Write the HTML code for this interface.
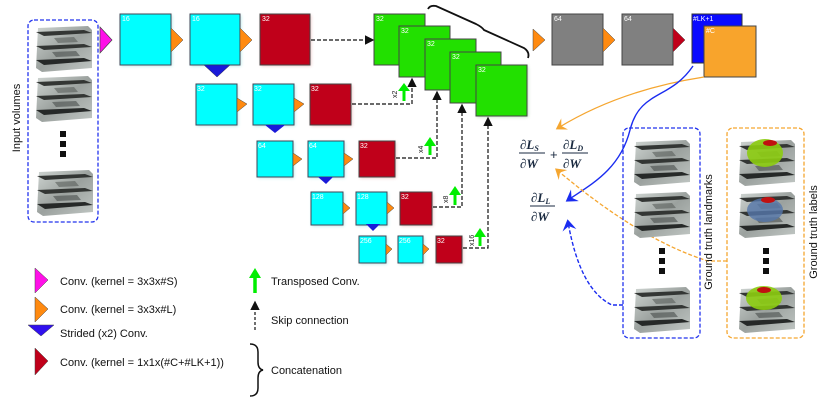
<!DOCTYPE html>
<html><head><meta charset="utf-8"><style>
html,body{margin:0;padding:0;background:#fff;}
svg{display:block;font-family:"Liberation Sans",sans-serif;}
.bl{font-size:7px;fill:#fff;}
.lg{font-size:11px;fill:#111;}
.m{font-family:"Liberation Serif",serif;font-style:italic;font-weight:bold;fill:#1a2a40;}
</style></head><body>
<svg width="831" height="406" viewBox="0 0 831 406" xmlns="http://www.w3.org/2000/svg">
<defs>
<linearGradient id="vg" x1="0" y1="0" x2="1" y2="1"><stop offset="0" stop-color="#cfd5d2"/><stop offset="0.5" stop-color="#9ba19e"/><stop offset="1" stop-color="#c0c6c3"/></linearGradient>
<g id="vol">
<polygon points="4,4 54,2 58,6 58,44 8,48 2,44" fill="url(#vg)"/>
<polygon points="2,8 50,6 58,9 10,12" fill="#333634"/>
<polygon points="2,22 50,20 58,23 10,26" fill="#333634"/>
<polygon points="2,36 50,34 58,37 10,41" fill="#262928"/>
<polygon points="20,14 40,13 44,18 24,19" fill="#5a5f5c" opacity="0.6"/>
<polygon points="18,28 42,27 46,32 22,33" fill="#4a4f4c" opacity="0.6"/>
</g>
<filter id="gl" x="-20%" y="-20%" width="140%" height="140%"><feGaussianBlur stdDeviation="1.5"/></filter>
<marker id="ab" markerWidth="8" markerHeight="8" refX="6" refY="4" orient="auto"><path d="M0,0 L8,4 L0,8 z" fill="#111"/></marker>
<marker id="ao" markerWidth="10" markerHeight="10" refX="6" refY="5" orient="auto"><path d="M0,0 L8,5 L0,10 L3,5 z" fill="#f5a630"/></marker>
<marker id="abl" markerWidth="10" markerHeight="10" refX="6" refY="5" orient="auto"><path d="M0,0 L8,5 L0,10 L3,5 z" fill="#1a2cf0"/></marker>
</defs>

<!-- input volumes -->
<rect x="28" y="20" width="70" height="202" rx="6" fill="none" stroke="#2233ee" stroke-width="1.3" stroke-dasharray="4,2"/>
<text x="20" y="118" transform="rotate(-90 20 118)" text-anchor="middle" class="lg">Input volumes</text>
<use href="#vol" x="34" y="24"/>
<use href="#vol" x="34" y="74"/>
<rect x="60" y="131" width="6" height="6" fill="#111"/><rect x="60" y="141" width="6" height="6" fill="#111"/><rect x="60" y="151" width="6" height="6" fill="#111"/>
<use href="#vol" x="35" y="168"/>

<!-- glows -->
<g filter="url(#gl)" opacity="0.5">
<rect x="121" y="15" width="51" height="51" fill="#60d0d0"/><rect x="191" y="15" width="50" height="51" fill="#60d0d0"/>
<rect x="261" y="15" width="50" height="51" fill="#d08080"/>
<rect x="197" y="85" width="41" height="41" fill="#60d0d0"/><rect x="254" y="85" width="41" height="41" fill="#60d0d0"/><rect x="311" y="85" width="41" height="41" fill="#d08080"/>
<rect x="258" y="142" width="36" height="36" fill="#60d0d0"/><rect x="309" y="142" width="36" height="36" fill="#60d0d0"/><rect x="360" y="142" width="36" height="36" fill="#d08080"/>
<rect x="312" y="193" width="32" height="33" fill="#60d0d0"/><rect x="357" y="193" width="31" height="33" fill="#60d0d0"/><rect x="401" y="193" width="32" height="33" fill="#d08080"/>
<rect x="360" y="237" width="27" height="27" fill="#60d0d0"/><rect x="399" y="237" width="25" height="27" fill="#60d0d0"/><rect x="437" y="237" width="26" height="27" fill="#d08080"/>
<rect x="477" y="66" width="51" height="51" fill="#70c070"/>
</g>

<!-- row 1 -->
<polygon points="100,27 112,40 100,53" fill="#ff10e8" stroke="#444" stroke-width="0.7"/>
<rect x="120" y="14" width="51" height="51" fill="#00ffff" stroke="#445" stroke-width="1"/><text x="122" y="21" class="bl">16</text>
<polygon points="171,28 183,40 171,52" fill="#ff8a10" stroke="#444" stroke-width="0.5"/>
<rect x="190" y="14" width="50" height="51" fill="#00ffff" stroke="#445" stroke-width="1"/><text x="192" y="21" class="bl">16</text>
<polygon points="240,28 252,40 240,52" fill="#ff8a10" stroke="#444" stroke-width="0.5"/>
<polygon points="204,65 230,65 217,77" fill="#1a1ad8" stroke="#334" stroke-width="0.5"/>
<rect x="260" y="14" width="50" height="51" fill="#c0001a" stroke="#444" stroke-width="1"/><text x="262" y="21" class="bl">32</text>
<path d="M311,40 L372,40" stroke="#111" stroke-width="1.2" stroke-dasharray="4,2" fill="none" marker-end="url(#ab)"/>

<!-- green stack -->
<g stroke="#444" stroke-width="1">
<rect x="374" y="14" width="51" height="51" fill="#22e000"/>
<rect x="399" y="26" width="51" height="51" fill="#22e000"/>
<rect x="425" y="39" width="51" height="51" fill="#22e000"/>
<rect x="450" y="52" width="51" height="51" fill="#22e000"/>
<rect x="476" y="65" width="51" height="51" fill="#22e000"/>
</g>
<text x="376" y="21" class="bl">32</text><text x="401" y="33" class="bl">32</text><text x="427" y="46" class="bl">32</text><text x="452" y="59" class="bl">32</text><text x="478" y="72" class="bl">32</text>
<path d="M428,9 Q430,5 436,6 L476,24 Q482,27 484,30 L524,48 Q530,52 528,58" stroke="#111" stroke-width="1.8" fill="none"/>

<polygon points="533,29 545,40 533,51" fill="#ff8a10" stroke="#444" stroke-width="0.5"/>
<rect x="552" y="14" width="51" height="51" fill="#808080" stroke="#444" stroke-width="1"/><text x="554" y="21" class="bl">64</text>
<polygon points="603,28 615,40 603,52" fill="#ff8a10" stroke="#444" stroke-width="0.5"/>
<rect x="622" y="14" width="51" height="51" fill="#808080" stroke="#444" stroke-width="1"/><text x="624" y="21" class="bl">64</text>
<polygon points="673,28 685,40 673,52" fill="#c0001a" stroke="#444" stroke-width="0.5"/>
<rect x="692" y="14" width="50" height="49" fill="#0a0aff" stroke="#333" stroke-width="1"/><text x="693" y="21" class="bl">#LK+1</text>
<rect x="704" y="26" width="52" height="51" fill="#f8a42c" stroke="#444" stroke-width="1"/><text x="706" y="33" class="bl">#C</text>

<!-- row 2 -->
<rect x="196" y="84" width="41" height="41" fill="#00ffff" stroke="#445"/><text x="197" y="91" class="bl">32</text>
<polygon points="237,98 247,104 237,112" fill="#ff8a10" stroke="#444" stroke-width="0.5"/>
<rect x="253" y="84" width="41" height="41" fill="#00ffff" stroke="#445"/><text x="254" y="91" class="bl">32</text>
<polygon points="294,98 304,104 294,112" fill="#ff8a10" stroke="#444" stroke-width="0.5"/>
<polygon points="265,125 285,125 275,133" fill="#1a1ad8"/>
<rect x="310" y="84" width="41" height="41" fill="#c0001a" stroke="#444"/><text x="311" y="91" class="bl">32</text>
<path d="M352,104 L412,104 L412,80" stroke="#111" stroke-width="1.2" stroke-dasharray="4,2" fill="none" marker-end="url(#ab)"/>
<path d="M404,101 L404,90" stroke="#00ee00" stroke-width="3"/><polygon points="398,91 404,83 410,91" fill="#00ee00"/>
<text x="397" y="98" class="bl" style="fill:#222" transform="rotate(-90 397 98)">x2</text>

<!-- row 3 -->
<rect x="257" y="141" width="36" height="36" fill="#00ffff" stroke="#445"/><text x="258" y="148" class="bl">64</text>
<polygon points="293,153 302,159 293,166" fill="#ff8a10" stroke="#444" stroke-width="0.5"/>
<rect x="308" y="141" width="36" height="36" fill="#00ffff" stroke="#445"/><text x="309" y="148" class="bl">64</text>
<polygon points="344,153 353,159 344,166" fill="#ff8a10" stroke="#444" stroke-width="0.5"/>
<polygon points="318,177 333,177 326,184" fill="#1a1ad8"/>
<rect x="359" y="141" width="36" height="36" fill="#c0001a" stroke="#444"/><text x="360" y="148" class="bl">32</text>
<path d="M396,158 L437,158 L437,93" stroke="#111" stroke-width="1.2" stroke-dasharray="4,2" fill="none" marker-end="url(#ab)"/>
<path d="M430,155 L430,145" stroke="#00ee00" stroke-width="3"/><polygon points="424,146 430,137 436,146" fill="#00ee00"/>
<text x="423" y="153" class="bl" style="fill:#222" transform="rotate(-90 423 153)">x4</text>

<!-- row 4 -->
<rect x="311" y="192" width="32" height="33" fill="#00ffff" stroke="#445"/><text x="312" y="199" class="bl">128</text>
<polygon points="343,202 350,208 343,214" fill="#ff8a10" stroke="#444" stroke-width="0.5"/>
<rect x="356" y="192" width="31" height="33" fill="#00ffff" stroke="#445"/><text x="357" y="199" class="bl">128</text>
<polygon points="387,202 394,208 387,214" fill="#ff8a10" stroke="#444" stroke-width="0.5"/>
<polygon points="366,224 380,224 373,231" fill="#1a1ad8"/>
<rect x="400" y="192" width="32" height="33" fill="#c0001a" stroke="#444"/><text x="401" y="199" class="bl">32</text>
<path d="M433,207 L462,207 L462,106" stroke="#111" stroke-width="1.2" stroke-dasharray="4,2" fill="none" marker-end="url(#ab)"/>
<path d="M455,205 L455,194" stroke="#00ee00" stroke-width="3"/><polygon points="449,195 455,186 461,195" fill="#00ee00"/>
<text x="448" y="203" class="bl" style="fill:#222" transform="rotate(-90 448 203)">x8</text>

<!-- row 5 -->
<rect x="359" y="236" width="27" height="27" fill="#00ffff" stroke="#445"/><text x="360" y="243" class="bl">256</text>
<polygon points="386,244 392,249 386,255" fill="#ff8a10" stroke="#444" stroke-width="0.5"/>
<rect x="398" y="236" width="25" height="27" fill="#00ffff" stroke="#445"/><text x="399" y="243" class="bl">256</text>
<polygon points="423,244 429,249 423,255" fill="#ff8a10" stroke="#444" stroke-width="0.5"/>
<rect x="436" y="236" width="26" height="27" fill="#c0001a" stroke="#444"/><text x="437" y="243" class="bl">32</text>
<path d="M463,248 L488,248 L488,119" stroke="#111" stroke-width="1.2" stroke-dasharray="4,2" fill="none" marker-end="url(#ab)"/>
<path d="M480,246 L480,236" stroke="#00ee00" stroke-width="3"/><polygon points="474,237 480,228 486,237" fill="#00ee00"/>
<text x="474" y="246" class="bl" style="fill:#222" transform="rotate(-90 474 246)">x16</text>

<!-- math -->
<text x="520" y="149" class="m" font-size="13">∂L<tspan font-size="8" dy="2">S</tspan></text>
<line x1="519" y1="153" x2="545" y2="153" stroke="#1a2a40" stroke-width="1"/>
<text x="520" y="168" class="m" font-size="13">∂W</text>
<text x="550" y="159" font-size="13" fill="#1a2a40">+</text>
<text x="563" y="149" class="m" font-size="13">∂L<tspan font-size="8" dy="2">D</tspan></text>
<line x1="562" y1="153" x2="588" y2="153" stroke="#1a2a40" stroke-width="1"/>
<text x="563" y="168" class="m" font-size="13">∂W</text>
<text x="531" y="202" class="m" font-size="13">∂L<tspan font-size="8" dy="2">L</tspan></text>
<line x1="530" y1="206" x2="555" y2="206" stroke="#1a2a40" stroke-width="1"/>
<text x="531" y="221" class="m" font-size="13">∂W</text>

<!-- arrows -->
<path d="M704,77 Q620,90 558,128" stroke="#f5a630" stroke-width="1.3" fill="none" marker-end="url(#ao)"/>
<path d="M693,66 C670,100 640,90 630,130 C620,170 590,185 568,200" stroke="#1a2cf0" stroke-width="1.4" fill="none" marker-end="url(#abl)"/>
<path d="M727,261 L708,261 Q640,240 557,170" stroke="#f5a630" stroke-width="1.3" stroke-dasharray="4,2" fill="none" marker-end="url(#ao)"/>
<path d="M623,305 L612,305 Q580,290 568,222" stroke="#1a2cf0" stroke-width="1.4" stroke-dasharray="4,2" fill="none" marker-end="url(#abl)"/>

<!-- ground truth boxes -->
<rect x="623" y="128" width="77" height="210" rx="6" fill="none" stroke="#2233ee" stroke-width="1.3" stroke-dasharray="4,2"/>
<use href="#vol" x="632" y="138"/><use href="#vol" x="632" y="190"/>
<rect x="659" y="248" width="6" height="6" fill="#111"/><rect x="659" y="258" width="6" height="6" fill="#111"/><rect x="659" y="268" width="6" height="6" fill="#111"/>
<use href="#vol" x="632" y="285"/>
<text x="712" y="232" transform="rotate(-90 712 232)" text-anchor="middle" class="lg">Ground truth landmarks</text>
<rect x="727" y="128" width="77" height="210" rx="6" fill="none" stroke="#f5a630" stroke-width="1.3" stroke-dasharray="4,2"/>
<use href="#vol" x="737" y="138"/><use href="#vol" x="737" y="190"/>
<ellipse cx="765" cy="153" rx="18" ry="14" fill="#8ccc10" opacity="0.9"/><ellipse cx="770" cy="143" rx="7" ry="3" fill="#c01010"/>
<ellipse cx="765" cy="210" rx="18" ry="12" fill="#5577aa" opacity="0.8"/><ellipse cx="768" cy="200" rx="7" ry="3" fill="#c01010"/>
<rect x="763" y="248" width="6" height="6" fill="#111"/><rect x="763" y="258" width="6" height="6" fill="#111"/><rect x="763" y="268" width="6" height="6" fill="#111"/>
<use href="#vol" x="737" y="285"/>
<ellipse cx="764" cy="298" rx="18" ry="12" fill="#8ccc10" opacity="0.9"/><ellipse cx="764" cy="290" rx="7" ry="3" fill="#c01010"/>
<text x="817" y="232" transform="rotate(-90 817 232)" text-anchor="middle" class="lg">Ground truth labels</text>

<!-- legend -->
<polygon points="35,268 48,280 35,293" fill="#ff10e8" stroke="#444" stroke-width="0.5"/>
<text x="60" y="285" class="lg">Conv. (kernel = 3x3x#S)</text>
<polygon points="35,297 48,309 35,322" fill="#ff8a10" stroke="#444" stroke-width="0.5"/>
<text x="60" y="313" class="lg">Conv. (kernel = 3x3x#L)</text>
<polygon points="28,325 54,325 41,336" fill="#3010ee" stroke="#444" stroke-width="0.5"/>
<text x="60" y="337" class="lg">Strided (x2) Conv.</text>
<polygon points="35,348 48,361 35,375" fill="#c0001a" stroke="#444" stroke-width="0.5"/>
<text x="60" y="366" class="lg">Conv. (kernel = 1x1x(#C+#LK+1))</text>
<path d="M255,293 L255,277" stroke="#00ee00" stroke-width="3.5"/><polygon points="249,278 255,268 261,278" fill="#00ee00"/>
<text x="271" y="285" class="lg">Transposed Conv.</text>
<path d="M255,330 L255,303" stroke="#111" stroke-width="1.2" stroke-dasharray="3,2" fill="none" marker-end="url(#ab)"/>
<text x="271" y="324" class="lg">Skip connection</text>
<path d="M250,344 Q258,344 258,352 L258,362 Q258,369 263,370 Q258,371 258,378 L258,388 Q258,396 250,396" stroke="#111" stroke-width="1.5" fill="none"/>
<text x="271" y="374" class="lg">Concatenation</text>
</svg>
</body></html>
